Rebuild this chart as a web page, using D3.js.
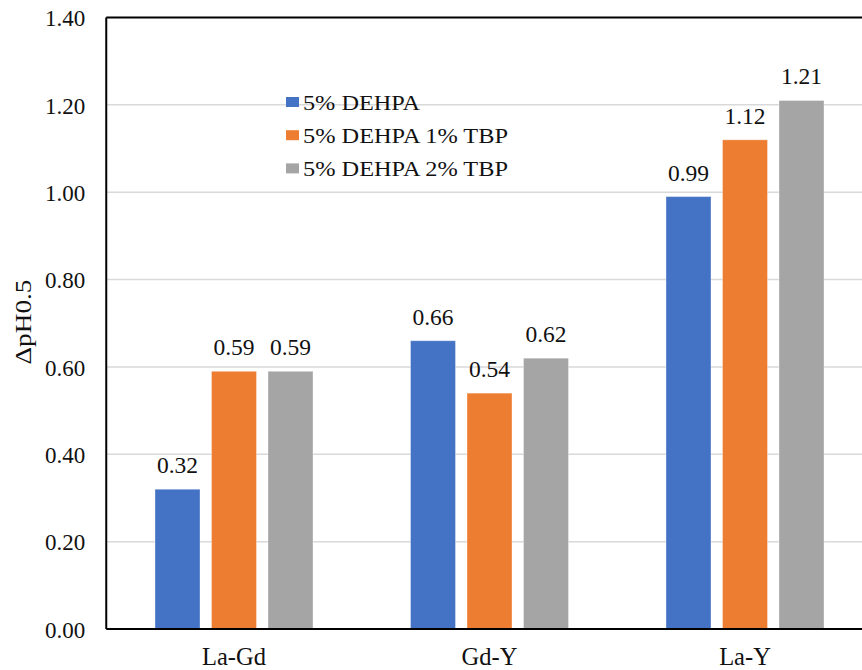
<!DOCTYPE html>
<html>
<head>
<meta charset="utf-8">
<script src="https://cdn.jsdelivr.net/npm/d3@7"></script>
<style>
  html, body { margin: 0; padding: 0; background: #fff; }
  svg { display: block; }
  svg text { font-family: "Liberation Serif", "Times New Roman", Times, Tinos, "DejaVu Serif", serif; }
</style>
</head>
<body>
<svg id="chart" width="862" height="670"></svg>
<script>
// Separation factor ΔpH0.5 for each element pair and extractant system
const categories = ["La-Gd", "Gd-Y", "La-Y"];
const seriesNames = ["5% DEHPA", "5% DEHPA 1% TBP", "5% DEHPA 2% TBP"];
const dehpa = [0.32, 0.66, 0.99];
const dehpaTbp1 = [0.59, 0.54, 1.12];
const dehpaTbp2 = [0.59, 0.62, 1.21];
const yTicks = [0, 0.2, 0.4, 0.6, 0.8, 1.0, 1.2, 1.4];
const colors = ["#4472C4", "#ED7D31", "#A5A5A5"];

const seriesValues = [dehpa, dehpaTbp1, dehpaTbp2];
const rows = categories.map((c, i) => ({
  category: c,
  values: seriesNames.map((s, k) => ({ series: s, value: seriesValues[k][i], color: colors[k] }))
}));

const svg = d3.select("#chart");
const plot = { left: 106.25, right: 872.75, top: 17.5, bottom: 629 };

const x = d3.scaleBand().domain(categories).range([plot.left, plot.right]);
const groupWidth = 158;
const xInner = d3.scaleBand().domain(seriesNames).range([0, groupWidth]).paddingInner(0.2035);
const y = d3.scaleLinear().domain([0, 1.4]).range([plot.bottom, plot.top]);

// horizontal gridlines
svg.append("g")
  .selectAll("line")
  .data(yTicks.filter(t => t > 0 && t < 1.4))
  .join("line")
  .attr("x1", plot.left).attr("x2", 862)
  .attr("y1", d => y(d)).attr("y2", d => y(d))
  .attr("stroke", "#d9d9d9").attr("stroke-width", 1.5);

// bars
const groups = svg.append("g")
  .selectAll("g")
  .data(rows)
  .join("g")
  .attr("transform", d => `translate(${x(d.category) + (x.bandwidth() - groupWidth) / 2},0)`);

groups.selectAll("rect")
  .data(d => d.values)
  .join("rect")
  .attr("x", d => xInner(d.series))
  .attr("width", xInner.bandwidth())
  .attr("y", d => y(d.value))
  .attr("height", d => y(0) - y(d.value))
  .attr("fill", d => d.color)
  .attr("stroke", "#ffffff")
  .attr("stroke-opacity", 0.35)
  .attr("stroke-width", 1);

// value labels
groups.selectAll("text")
  .data(d => d.values)
  .join("text")
  .attr("x", d => xInner(d.series) + xInner.bandwidth() / 2)
  .attr("y", d => y(d.value) - 16)
  .attr("text-anchor", "middle")
  .attr("font-size", 23.5)
  .attr("fill", "#111")
  .text(d => d.value.toFixed(2));

// y axis
const yAxis = d3.axisLeft(y).tickValues(yTicks).tickFormat(d3.format(".2f")).tickSize(0).tickPadding(21);
const yg = svg.append("g").attr("transform", `translate(${plot.left},0)`).call(yAxis);
yg.attr("font-family", null);
yg.select(".domain").remove();
yg.selectAll("text")
  .attr("font-size", 23)
  .attr("fill", "#111")
  .attr("dy", "0.36em");

// x axis
const xAxis = d3.axisBottom(x).tickSize(0).tickPadding(0);
const xg = svg.append("g").attr("transform", `translate(0,${plot.bottom})`).call(xAxis);
xg.attr("font-family", null);
xg.select(".domain").remove();
xg.selectAll("text")
  .attr("font-size", 24.5)
  .attr("fill", "#111")
  .attr("y", 35.5)
  .attr("dy", 0);

// plot frame
svg.append("line").attr("x1", plot.left).attr("x2", plot.left).attr("y1", plot.top).attr("y2", plot.bottom)
  .attr("stroke", "#000").attr("stroke-width", 2);
svg.append("line").attr("x1", plot.left).attr("x2", 862).attr("y1", plot.top).attr("y2", plot.top)
  .attr("stroke", "#000").attr("stroke-width", 2);
svg.append("line").attr("x1", plot.left).attr("x2", 862).attr("y1", plot.bottom).attr("y2", plot.bottom)
  .attr("stroke", "#000").attr("stroke-width", 2);

// y axis title
svg.append("text")
  .attr("transform", "translate(31,322) rotate(-90)")
  .attr("text-anchor", "middle")
  .attr("font-size", 23.5)
  .attr("fill", "#111")
  .attr("textLength", 85)
  .attr("lengthAdjust", "spacingAndGlyphs")
  .text("ΔpH0.5");

// legend
const legend = svg.append("g").attr("transform", "translate(286,0)");
const legendRows = legend.selectAll("g")
  .data(seriesNames)
  .join("g")
  .attr("transform", (d, i) => `translate(0,${110 + i * 33.2})`);
legendRows.append("rect")
  .attr("x", 0).attr("y", -13).attr("width", 13).attr("height", 10)
  .attr("fill", (d, i) => colors[i]);
legendRows.append("text")
  .attr("x", 17)
  .attr("y", 0)
  .attr("font-size", 20)
  .attr("fill", "#111")
  .attr("textLength", (d, i) => i === 0 ? 117 : 205)
  .attr("lengthAdjust", "spacingAndGlyphs")
  .text(d => d);
</script>
</body>
</html>
